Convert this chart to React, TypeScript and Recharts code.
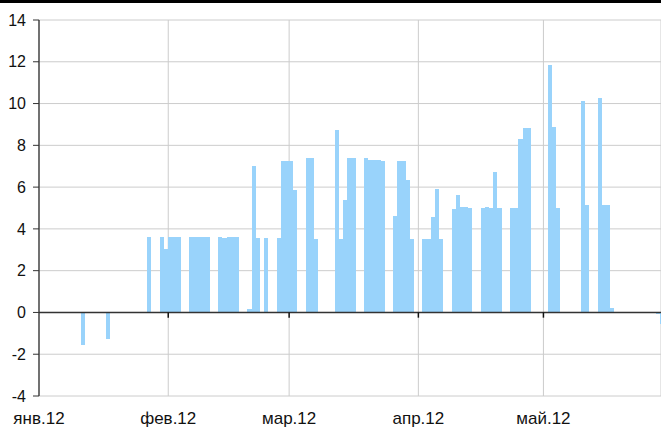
import { BarChart, Bar, XAxis, YAxis, CartesianGrid, ReferenceLine } from 'recharts';

const n = null;

// daily values, one entry per calendar day (2012)
const janValues = [
  n, n, n, n, n, n, n,
  n, n, n, -1.58, n, n, n,
  n, n, -1.29, n, n, n, n,
  n, n, n, n, n, 3.63, n,
  n, 3.63, 3.06,
];
const febValues = [
  3.63, 3.63, 3.63, n, n, 3.63, 3.63,
  3.63, 3.59, 3.59, n, n, 3.63, 3.58,
  3.63, 3.63, 3.63, n, n, 0.15, 7.0,
  3.58, n, 3.58, n, n, 3.54, 7.27,
  7.27,
];
const marValues = [
  7.27, 5.84, n, n, 7.37, 7.37, 3.53,
  n, n, n, n, 8.72, 3.53, 5.36,
  7.37, 7.37, n, n, 7.37, 7.32, 7.32,
  7.32, 7.23, n, n, 4.64, 7.27, 7.27,
  6.36, 3.53, n,
];
const aprValues = [
  n, 3.53, 3.53, 4.59, 5.93, 3.53, n,
  n, 4.97, 5.64, 5.07, 5.07, 5.02, n,
  n, 5.02, 5.07, 5.02, 6.7, 5.02, n,
  n, 5.02, 5.02, 8.28, 8.81, 8.81, n,
  n, n,
];
const mayValues = [
  n, 11.83, 8.86, 5.02, n, n, n,
  n, n, 10.1, 5.12, n, n, 10.25,
  5.16, 5.16, 0.22, n, n, n, n,
  n, n, n, n, n, n, -0.08,
  -0.54, n, n,
];

const months = [janValues, febValues, marValues, aprValues, mayValues];
const monthLabels = ['янв.12', 'фев.12', 'мар.12', 'апр.12', 'май.12'];
const yTicks = [-4, -2, 0, 2, 4, 6, 8, 10, 12, 14];

// month start offsets in days from Jan 1
const monthStarts: number[] = [];
months.reduce((acc, m) => {
  monthStarts.push(acc);
  return acc + m.length;
}, 0);

const data: { x: number; v: number | null }[] = [];
months.forEach((m, mi) => {
  m.forEach((v, d) => {
    data.push({ x: monthStarts[mi] + d + 0.5, v });
  });
});

const W = 661;
const H = 428;
const LEFT = 39;
const DAYS_SHOWN = 149.2;
const dayPx = (W - LEFT) / DAYS_SHOWN;
const BAR = '#99d3fb';

// one day wide, centred on the bar's own position; edges snapped to whole pixels
function DayBar(props: any) {
  const { x, y, width, height } = props;
  if (x == null || y == null || width == null || !height) return null;
  const center = x + width / 2;
  const x0 = Math.round(center - dayPx / 2);
  const x1 = Math.round(center + dayPx / 2);
  const top = Math.min(y, y + height);
  return (
    <rect
      x={x0}
      y={top}
      width={x1 - x0}
      height={Math.abs(height)}
      fill={BAR}
      shapeRendering="crispEdges"
    />
  );
}

export default function App() {
  return (
    <div style={{ position: 'absolute', left: 0, top: 0, width: W, height: H, background: '#fff' }}>
      <div style={{ position: 'absolute', left: 0, top: 0, width: W, height: 3, background: '#000' }} />
      <BarChart
        width={W}
        height={H}
        data={data}
        margin={{ top: 20, right: 0, bottom: 0, left: 0 }}
        barCategoryGap={0}
        barGap={0}
        style={{ fontFamily: '"Liberation Sans", Arial, sans-serif' }}
      >
        <CartesianGrid stroke="#cccccc" strokeWidth={1} />
        <XAxis
          dataKey="x"
          type="number"
          domain={[0, DAYS_SHOWN]}
          allowDataOverflow
          ticks={monthStarts}
          tickFormatter={(t: number) => monthLabels[monthStarts.indexOf(t)]}
          axisLine={false}
          tickLine={false}
          tickSize={0}
          tickMargin={16}
          height={32}
          interval={0}
          tick={{ fill: '#111', fontSize: 17 }}
        />
        <YAxis
          type="number"
          domain={[-4, 14]}
          ticks={yTicks}
          width={LEFT}
          tickMargin={7}
          tickSize={6}
          axisLine={{ stroke: '#333', strokeWidth: 1.3 }}
          tickLine={{ stroke: '#333' }}
          interval={0}
          tick={{ fill: '#111', fontSize: 16 }}
        />
        <Bar
          dataKey="v"
          fill={BAR}
          shape={DayBar}
          isAnimationActive={false}
        />
        <ReferenceLine y={0} stroke="#333" strokeWidth={1.5} />
        {monthStarts.slice(1).map((s) => (
          <ReferenceLine
            key={s}
            segment={[{ x: s, y: 0 }, { x: s, y: -0.25 }]}
            stroke="#111"
            strokeWidth={1.5}
          />
        ))}
      </BarChart>
    </div>
  );
}
